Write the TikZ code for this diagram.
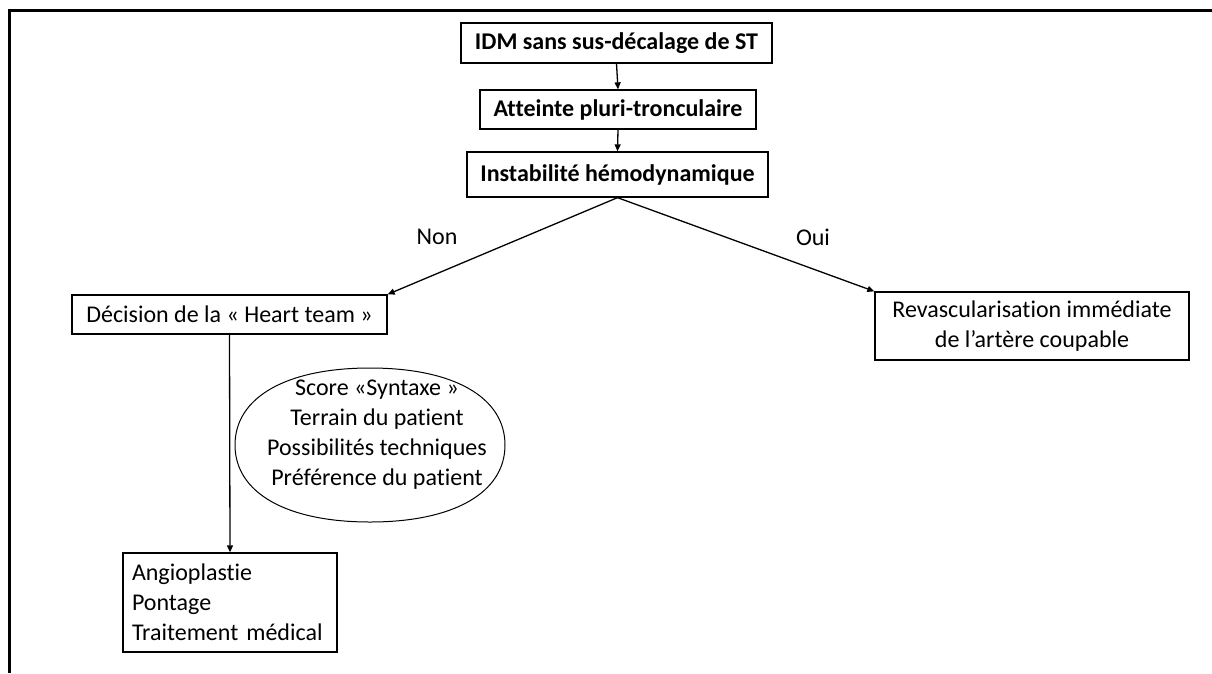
\documentclass[tikz,border=0pt]{standalone}
\usepackage{fontspec}
\setmainfont{Carlito}[Ligatures=NoCommon]
\usetikzlibrary{arrows.meta}

\begin{document}
\begin{tikzpicture}[x=1pt,y=1pt,yscale=-1,
  font=\fontsize{24}{30}\selectfont,
  box/.style={draw,line width=1.3,inner sep=0,align=center},
  titre/.style={box,font=\fontsize{24}{30}\selectfont\bfseries},
  flow/.style={line width=1.3,-{Triangle[length=7,width=6]}},
]
  \useasboundingbox (0,0) rectangle (1212,673);
  % cadre
  \draw [line width=3] (9,673) -- (9,10) -- (1212,10);

  \node [titre,minimum width=311,minimum height=40] (idm) at (616.5,43) {IDM sans sus-décalage de ST};
  \node [titre,minimum width=276,minimum height=39] (atteinte) at (618,109.5) {Atteinte pluri-tronculaire};
  \node [titre,minimum width=301,minimum height=45] (instab) at (617.5,174.5) {Instabilité hémodynamique};

  \node [box,minimum width=315,minimum height=39] (heart) at (229.5,314.5) {Décision de la « Heart team »};
  \node [box,minimum width=314,minimum height=68] (revasc) at (1032,326) {Revascularisation immédiate\\de l’artère coupable};
  % criteres de choix
  \draw [line width=1] (235,445) .. controls (235,397.3) and (286.3,368) .. (370,368) .. controls (453.7,368) and (505,397.3) .. (505,445) .. controls (505,492.7) and (453.7,522) .. (370,522) .. controls (286.3,522) and (235,492.7) .. (235,445) -- cycle;
  \node [align=center,inner sep=0] (criteres) at (377,435)
    {Score «Syntaxe »\\Terrain du patient\\Possibilités techniques\\Préférence du patient};
  \node [box,align=left,inner sep=9,text width=196,minimum height=99] (traitement) at (230,602.5)
    {Angioplastie\\Pontage\\Traitement médical};

  \node (non) at (437,237) {Non};
  \node (oui) at (813,237) {Oui};

  \draw [flow] (idm.south) -- (atteinte.north);
  \draw [flow] (atteinte.south) -- (instab.north);
  \draw [flow] (instab.south) -- (heart.north east);
  \draw [flow] (instab.south) -- (revasc.north west);
  \draw [flow] (heart.south) -- (traitement.north);
\end{tikzpicture}
\end{document}
